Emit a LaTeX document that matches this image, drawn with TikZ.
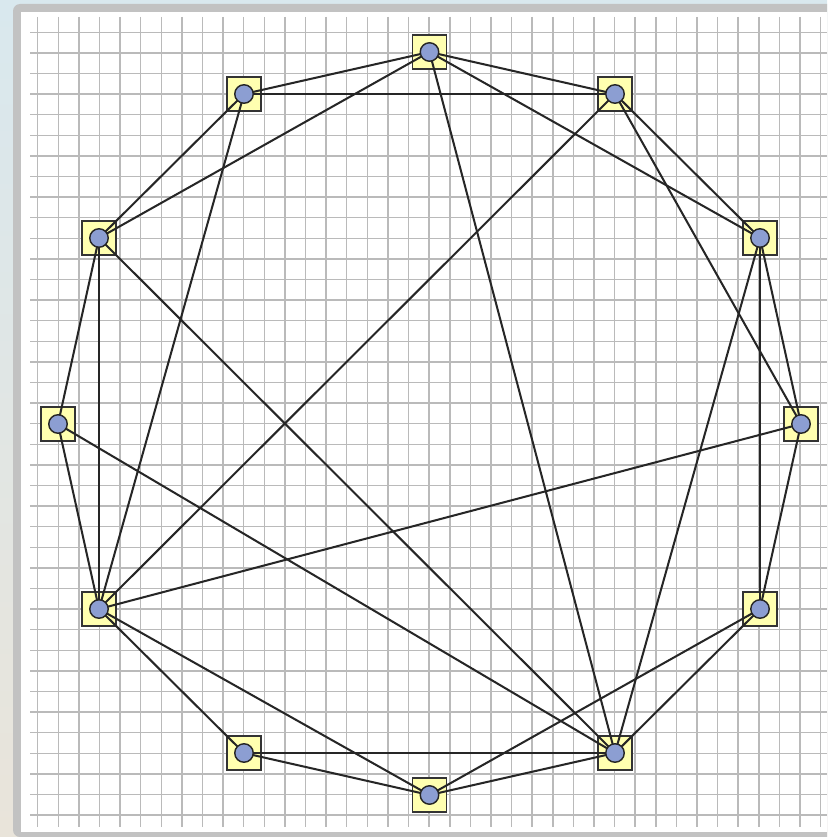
\documentclass[tikz,border=0pt]{standalone}
\usepackage{tikz,xcolor}
\definecolor{sq}{HTML}{FFFFB0}
\definecolor{dot}{HTML}{8C9ED2}
\definecolor{frm}{HTML}{C2C2C2}
\definecolor{skyb}{HTML}{D9E8EE}
\definecolor{sand}{HTML}{E9E4DA}
\tikzset{
  sqr/.style={draw=black!80,line width=0.8pt,fill=sq,minimum size=0.68cm,inner sep=0pt},
  dotn/.style={circle,draw=black!85,line width=0.8pt,fill=dot,minimum size=0.37cm,inner sep=0pt},
  ed/.style={line width=1.15pt,draw=black!85,line cap=round},
  grl/.style={line width=0.9pt,draw=black!27},
}

\begin{document}
\begin{tikzpicture}[x=0.02cm,y=-0.02cm]
\useasboundingbox (0,0) rectangle (827,837);
\clip (0,0) rectangle (827,837);
% backdrop and frame
\shade[top color=skyb,bottom color=sand] (0,0) rectangle (827,837);
\fill[frm,rounded corners=4pt] (13,4) rectangle (860,837);
\fill[white] (21,12) rectangle (860,832);
% grid
\foreach \i in {0,...,38} {
  \draw[grl] ({37.7+20.6*\i},17) -- ({37.7+20.6*\i},827);
  \draw[grl] (30,{32.3+20.6*\i}) -- (827,{32.3+20.6*\i});
}
% squares
\node[sqr] (s0) at (429.5,52) {};
\node[sqr] (s1) at (615,94) {};
\node[sqr] (s2) at (760,238) {};
\node[sqr] (s3) at (801,424) {};
\node[sqr] (s4) at (760,609) {};
\node[sqr] (s5) at (615,753) {};
\node[sqr] (s6) at (429.5,795) {};
\node[sqr] (s7) at (244,753) {};
\node[sqr] (s8) at (99,609) {};
\node[sqr] (s9) at (58,424) {};
\node[sqr] (s10) at (99,238) {};
\node[sqr] (s11) at (244,94) {};
% edges
\draw[ed](s0.center)--(s1.center); \draw[ed](s0.center)--(s2.center); \draw[ed](s0.center)--(s5.center);
\draw[ed](s0.center)--(s10.center); \draw[ed](s0.center)--(s11.center);
\draw[ed](s1.center)--(s2.center); \draw[ed](s1.center)--(s3.center); \draw[ed](s1.center)--(s8.center);
\draw[ed](s1.center)--(s11.center);
\draw[ed](s2.center)--(s3.center); \draw[ed](s2.center)--(s4.center); \draw[ed](s2.center)--(s5.center);
\draw[ed](s3.center)--(s4.center); \draw[ed](s3.center)--(s8.center);
\draw[ed](s4.center)--(s5.center); \draw[ed](s4.center)--(s6.center);
\draw[ed](s5.center)--(s6.center); \draw[ed](s5.center)--(s7.center); \draw[ed](s5.center)--(s9.center);
\draw[ed](s5.center)--(s10.center);
\draw[ed](s6.center)--(s7.center); \draw[ed](s6.center)--(s8.center);
\draw[ed](s7.center)--(s8.center);
\draw[ed](s8.center)--(s9.center); \draw[ed](s8.center)--(s10.center); \draw[ed](s8.center)--(s11.center);
\draw[ed](s9.center)--(s10.center); \draw[ed](s10.center)--(s11.center);
% dots
\node[dotn] (c0) at (s0) {};
\node[dotn] (c1) at (s1) {};
\node[dotn] (c2) at (s2) {};
\node[dotn] (c3) at (s3) {};
\node[dotn] (c4) at (s4) {};
\node[dotn] (c5) at (s5) {};
\node[dotn] (c6) at (s6) {};
\node[dotn] (c7) at (s7) {};
\node[dotn] (c8) at (s8) {};
\node[dotn] (c9) at (s9) {};
\node[dotn] (c10) at (s10) {};
\node[dotn] (c11) at (s11) {};
\end{tikzpicture}
\end{document}
